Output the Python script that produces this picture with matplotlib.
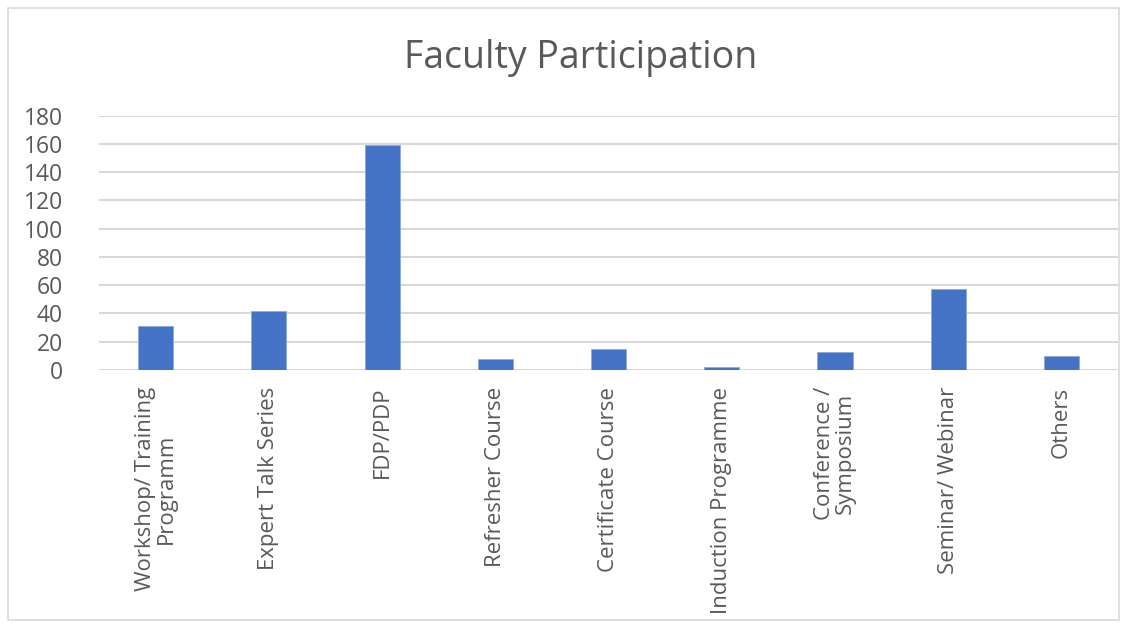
import matplotlib.pyplot as plt
from matplotlib.patches import Rectangle

categories = ["Workshop/ Training\nProgramm", "Expert Talk Series", "FDP/PDP",
              "Refresher Course", "Certificate Course", "Induction Programme",
              "Conference /\nSymposium", "Seminar/ Webinar", "Others"]
values = [31, 42, 159, 8, 15, 2, 13, 57, 10]
yticks = [0, 20, 40, 60, 80, 100, 120, 140, 160, 180]

plt.rcParams['font.family'] = ['Open Sans', 'DejaVu Sans']
grey = "#595959"

fig = plt.figure(figsize=(11.25, 6.28), dpi=100)
ax = fig.add_axes([0.088, 0.4108, 0.9058, 0.405])

x = range(len(categories))
ax.bar(x, values, width=0.31, color="#4472C4", edgecolor="#8FAADC", linewidth=0.6, zorder=3)

ax.set_xlim(-0.5, len(categories) - 0.5)
ax.set_ylim(0, 180)
ax.set_yticks(yticks)
ax.set_yticklabels([str(v) for v in yticks], fontsize=16.5, color=grey)
ax.set_xticks(list(x))
ax.set_xticklabels(categories, rotation=90, fontsize=16, color=grey,
                   ha="center", va="top", multialignment="center",
                   linespacing=1.0)
ax.tick_params(length=0, pad=12)
ax.tick_params(axis="y", pad=26)
ax.grid(axis="y", color="#d9d9d9", linewidth=1.5, zorder=0)
for s in ax.spines.values():
    s.set_visible(False)

fig.text(0.516, 0.908, "Faculty Participation", ha="center", va="center",
         fontsize=27, color=grey)

fig.patches.append(Rectangle((0.007, 0.012), 0.988, 0.976, transform=fig.transFigure,
                             fill=False, edgecolor="#d9d9d9", linewidth=1.2))

fig.savefig("out.png", dpi=100)
